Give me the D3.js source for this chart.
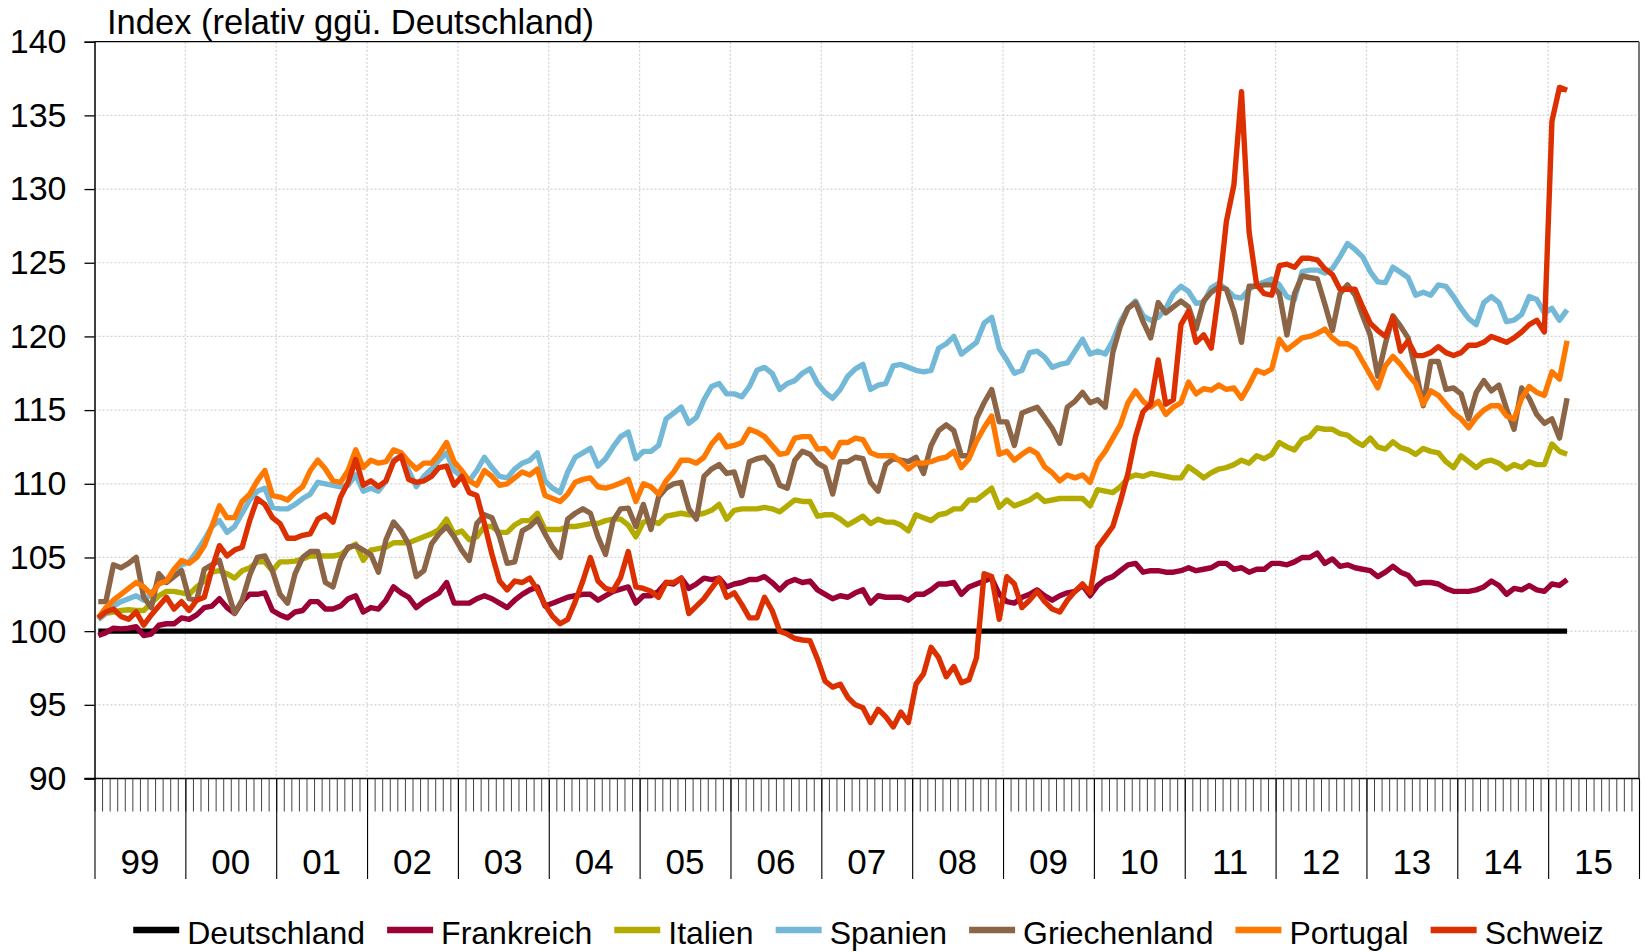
<!DOCTYPE html>
<html><head><meta charset="utf-8">
<script src="https://cdn.jsdelivr.net/npm/d3@7"></script>
<style>
html,body{margin:0;padding:0;background:#fff;}
svg{display:block;}
text{font-family:"Liberation Sans",Arial,Helvetica,sans-serif;fill:#000;}
</style></head><body>
<svg id="chart" width="1643" height="952"></svg>
<script>
// ---------- DATA ----------
const titleText = "Index (relativ ggü. Deutschland)";
const yearLabels = ["99","00","01","02","03","04","05","06","07","08","09","10","11","12","13","14","15"];
const yTicks = [90,95,100,105,110,115,120,125,130,135,140];
const seriesNames = ["Deutschland","Frankreich","Italien","Spanien","Griechenland","Portugal","Schweiz"];

const deutschland = [
100,100,100,100,100,100,100,100,100,100,100,100,
100,100,100,100,100,100,100,100,100,100,100,100,
100,100,100,100,100,100,100,100,100,100,100,100,
100,100,100,100,100,100,100,100,100,100,100,100,
100,100,100,100,100,100,100,100,100,100,100,100,
100,100,100,100,100,100,100,100,100,100,100,100,
100,100,100,100,100,100,100,100,100,100,100,100,
100,100,100,100,100,100,100,100,100,100,100,100,
100,100,100,100,100,100,100,100,100,100,100,100,
100,100,100,100,100,100,100,100,100,100,100,100,
100,100,100,100,100,100,100,100,100,100,100,100,
100,100,100,100,100,100,100,100,100,100,100,100,
100,100,100,100,100,100,100,100,100,100,100,100,
100,100,100,100,100,100,100,100,100,100,100,100,
100,100,100,100,100,100,100,100,100,100,100,100,
100,100,100,100,100,100,100,100,100,100,100,100,
100,100,100
];

const frankreich = [
99.7,99.9,100.2,100.15,100.2,100.3,99.7,99.8,100.4,100.5,100.5,100.9,
100.8,101.1,101.6,101.7,102.2,101.6,101.2,102.0,102.5,102.5,102.6,101.4,
101.1,100.9,101.3,101.4,102.0,102.0,101.5,101.5,101.7,102.2,102.4,101.3,
101.6,101.5,102.1,103.0,102.6,102.3,101.6,102.0,102.3,102.6,103.3,101.9,
101.9,101.9,102.2,102.4,102.2,101.9,101.6,102.1,102.5,102.8,103.0,101.7,
101.9,102.1,102.3,102.4,102.5,102.5,102.1,102.4,102.7,102.85,103.0,101.9,
102.4,102.4,102.7,103.3,103.2,103.6,102.9,103.2,103.6,103.5,103.6,103.0,
103.2,103.3,103.5,103.5,103.7,103.3,102.8,103.3,103.5,103.3,103.4,102.8,
102.5,102.2,102.4,102.3,102.6,102.8,101.9,102.4,102.3,102.3,102.3,102.1,
102.5,102.5,102.8,103.2,103.2,103.3,102.5,103.0,103.2,103.4,103.6,102.5,
102.0,101.9,102.3,102.5,102.8,102.4,102.1,102.4,102.6,102.7,103.1,102.4,
103.1,103.5,103.7,104.1,104.5,104.6,104.0,104.1,104.1,104.0,104.0,104.1,
104.3,104.1,104.2,104.3,104.6,104.6,104.2,104.3,104.0,104.2,104.2,104.6,
104.6,104.5,104.7,105.0,105.0,105.3,104.6,104.9,104.4,104.5,104.3,104.2,
104.1,103.7,104.0,104.4,104.0,103.8,103.2,103.3,103.3,103.2,102.9,102.7,
102.7,102.7,102.8,103.0,103.4,103.1,102.5,102.9,102.8,103.1,102.8,102.7,
103.2,103.1,103.5
];

const italien = [
100.8,101.2,101.3,101.4,101.45,101.4,101.4,101.9,102.4,102.7,102.7,102.6,
102.5,103.0,103.4,104.0,104.1,103.9,103.6,104.1,104.3,104.7,104.7,104.1,
104.7,104.7,104.75,104.9,105.1,105.1,105.1,105.1,105.2,105.6,105.9,104.8,
105.5,105.6,105.7,106.0,106.0,106.0,106.2,106.4,106.6,106.9,107.6,106.6,
106.8,106.2,106.4,107.1,107.1,106.7,106.7,107.2,107.5,107.5,108.0,106.9,
106.9,106.9,107.1,107.1,107.2,107.3,107.3,107.5,107.6,107.6,107.2,106.4,
107.4,107.5,107.3,107.8,107.9,108.0,107.9,107.9,108.0,108.2,108.6,107.6,
108.2,108.3,108.3,108.3,108.4,108.3,108.1,108.5,108.9,108.8,108.8,107.8,
107.9,107.9,107.6,107.2,107.5,107.8,107.3,107.6,107.4,107.4,107.2,106.8,
107.9,107.7,107.5,107.9,108.0,108.3,108.3,108.9,108.9,109.3,109.7,108.4,
108.9,108.5,108.7,108.9,109.25,108.8,108.9,109.0,109.0,109.0,109.0,108.5,
109.6,109.5,109.4,109.8,110.4,110.6,110.5,110.7,110.6,110.5,110.4,110.4,
111.15,110.8,110.4,110.75,111.0,111.1,111.3,111.6,111.4,111.9,111.7,112.0,
112.8,112.5,112.3,113.0,113.2,113.8,113.7,113.7,113.4,113.3,112.9,112.6,
113.1,112.5,112.35,112.85,112.45,112.3,112.0,112.4,112.2,112.1,111.5,111.1,
111.9,111.5,111.1,111.5,111.6,111.4,111.0,111.3,111.1,111.5,111.3,111.3,
112.7,112.2,112.0
];

const spanien = [
100.8,101.2,101.7,102.0,102.2,102.4,102.1,102.5,103.3,103.4,104.0,104.5,
104.7,105.4,106.2,107.1,107.5,106.7,107.1,108.0,108.9,109.5,109.7,108.4,
108.3,108.3,108.6,109.0,109.3,110.1,110.0,109.9,109.8,109.9,110.6,109.5,
109.7,109.5,110.2,111.6,111.9,110.9,109.8,110.5,111.0,111.6,112.1,110.9,
110.5,110.2,110.9,111.8,111.1,110.5,110.4,111.0,111.4,111.6,112.1,110.2,
109.7,109.4,110.8,111.8,112.1,112.4,111.2,111.7,112.5,113.2,113.5,111.7,
112.2,112.2,112.6,114.4,114.8,115.2,114.1,114.5,115.7,116.6,116.8,116.1,
116.1,115.9,116.6,117.7,117.9,117.5,116.4,116.8,117.0,117.5,117.8,116.8,
116.2,115.8,116.4,117.3,117.8,118.1,116.4,116.7,116.8,118.0,118.1,117.9,
117.7,117.6,117.7,119.2,119.5,120.0,118.8,119.2,119.6,120.9,121.3,119.2,
118.4,117.5,117.7,118.9,119.0,118.6,117.9,118.1,118.2,119.0,119.8,118.8,
119.0,118.8,119.7,121.0,121.9,122.4,121.4,121.1,121.3,121.9,122.9,123.4,
123.05,122.25,122.3,123.3,123.6,123.2,122.7,122.6,123.2,123.5,123.7,123.9,
123.5,122.7,122.5,124.4,124.5,124.5,124.3,124.6,125.4,126.3,125.9,125.4,
124.4,123.7,123.65,124.7,124.35,124.0,122.8,123.0,122.8,123.5,123.4,122.7,
121.9,121.2,120.8,122.3,122.7,122.3,121.0,121.1,121.5,122.7,122.5,121.6,
121.9,121.1,121.8
];

const griechenland = [
102.0,102.0,104.5,104.3,104.6,105.0,102.3,101.6,103.9,103.3,103.7,104.1,
102.2,102.1,104.2,104.5,104.8,102.9,101.2,102.1,103.8,105.0,105.1,104.1,
102.5,101.9,103.9,105.0,105.4,105.4,103.3,103.0,104.8,105.7,105.8,105.5,
105.2,104.0,106.2,107.4,106.8,105.9,103.7,104.1,105.9,106.6,107.1,106.4,
105.5,104.8,107.3,107.9,107.7,106.4,104.6,104.7,106.8,107.1,107.6,106.6,
105.7,105.0,107.6,108.0,108.3,108.0,106.4,105.2,107.5,108.3,108.35,107.1,
108.6,106.9,109.1,109.7,110.0,110.1,108.3,107.6,110.5,111.0,111.3,110.7,
110.8,109.2,111.5,111.7,111.8,111.2,109.9,109.7,111.6,112.2,112.0,111.4,
111.1,109.3,111.5,111.5,111.8,111.7,110.1,109.5,111.3,111.7,111.6,111.5,
111.8,110.7,112.6,113.6,114.0,113.6,111.9,111.9,114.4,115.5,116.4,114.2,
114.2,112.6,114.8,115.0,115.2,114.5,113.75,112.75,115.2,115.6,116.2,115.5,
115.7,115.2,118.9,120.7,121.9,122.3,121.0,119.9,122.3,121.6,122.0,122.4,
122.0,120.5,122.4,123.0,123.35,123.2,121.7,119.6,123.4,123.4,123.5,123.5,
122.9,120.1,122.9,124.1,124.0,123.9,122.2,120.4,122.9,123.5,122.8,121.4,
120.1,117.3,119.5,121.4,120.7,119.9,117.7,115.3,118.3,118.3,116.4,116.5,
116.1,114.4,116.2,117.0,116.3,116.7,115.1,113.7,116.5,115.8,114.7,114.1,
114.4,113.1,115.8
];

const portugal = [
100.9,101.6,102.1,102.5,102.9,103.3,103.0,102.5,103.2,103.4,104.2,104.8,
104.6,105.0,105.8,107.1,108.5,107.7,107.7,108.8,109.3,110.2,110.9,109.2,
109.1,108.9,109.4,109.8,110.9,111.6,111.0,110.2,110.1,110.9,112.3,111.1,
111.6,111.4,111.5,112.3,112.1,111.5,111.0,111.4,111.4,112.0,112.8,111.5,
110.9,110.2,109.9,110.9,110.5,109.9,110.0,110.4,110.8,110.6,111.0,109.2,
109.0,108.8,109.3,110.1,110.3,110.4,109.8,109.7,109.85,110.05,110.3,108.8,
110.0,109.8,109.3,110.2,110.8,111.6,111.6,111.4,111.8,112.7,113.3,112.5,
112.6,112.8,113.7,113.5,113.2,112.6,112.0,112.1,113.1,113.2,113.2,112.35,
112.4,111.8,112.8,112.8,113.1,113.0,112.1,111.9,111.9,111.9,111.5,111.0,
111.4,111.4,111.5,111.7,111.8,112.2,111.1,111.7,112.9,113.8,114.6,112.0,
112.2,111.6,112.0,112.35,112.05,111.15,110.75,110.2,110.6,110.4,110.6,110.1,
111.5,112.2,113.1,114.0,115.5,116.3,115.6,115.2,115.6,114.7,115.2,115.5,
116.9,116.1,116.45,116.35,116.7,116.4,116.5,115.8,116.7,117.7,117.5,117.8,
119.8,119.1,119.5,119.9,120.0,120.2,120.5,119.9,119.5,119.5,119.2,118.3,
117.4,116.5,118.0,118.65,118.1,117.4,116.8,115.4,116.3,116.0,115.4,114.8,
114.4,113.8,114.5,115.0,115.3,115.3,114.6,114.4,115.8,116.6,116.2,116.0,
117.6,117.1,119.7
];

const schweiz = [
100.9,101.3,101.5,101.0,100.8,101.3,100.4,101.1,101.7,102.3,101.5,102.0,
101.4,102.1,102.3,104.2,105.8,105.1,105.5,105.7,107.5,109.0,108.6,107.7,
107.3,106.3,106.3,106.5,106.6,107.6,107.9,107.4,109.1,110.1,111.65,109.9,
110.2,109.8,110.2,111.5,111.9,110.3,110.1,110.2,110.5,111.1,111.2,109.9,
110.5,109.4,109.2,107.3,105.2,103.4,102.8,103.4,103.3,103.6,102.8,101.8,
101.0,100.5,100.8,102.0,103.4,105.0,103.4,102.9,102.75,103.65,105.4,103.0,
102.9,102.7,102.3,103.3,103.3,103.6,101.2,101.7,102.2,102.9,103.6,102.3,
102.6,101.8,100.9,100.9,102.3,101.4,100.0,99.8,99.5,99.4,99.35,98.1,
96.6,96.2,96.4,95.5,95.0,94.8,93.8,94.7,94.2,93.5,94.5,93.8,
96.4,97.1,98.9,98.2,96.9,97.6,96.5,96.7,98.2,103.9,103.7,100.8,
103.7,103.2,101.6,102.1,102.7,102.0,101.5,101.3,102.1,102.7,103.2,102.6,
105.7,106.4,107.1,108.8,110.7,113.2,114.9,115.4,118.4,115.4,115.7,120.8,
121.7,119.6,120.1,119.2,123.0,127.8,130.3,136.6,127.1,123.5,122.9,122.8,
124.8,124.9,124.7,125.3,125.3,125.2,124.6,124.2,123.2,123.2,123.2,122.0,
120.9,120.4,120.0,121.3,119.0,119.7,118.7,118.7,118.9,119.3,118.9,118.7,
118.9,119.4,119.4,119.6,120.0,119.8,119.6,119.9,120.3,120.8,121.1,120.3,
134.6,136.9,136.7
];

// ---------- STYLE ----------
const seriesColors = ["#000000","#9b0036","#b3ab00","#73b9d7","#8c6446","#ff7800","#dc3000"];
const seriesValues = [deutschland, frankreich, italien, spanien, griechenland, portugal, schweiz];

const W = 1643, H = 952;
const M = {left: 94.5, right: 1639, top: 41.7, bottom: 778.5};

const svg = d3.select("#chart");
svg.append("rect").attr("width", W).attr("height", H).attr("fill", "#fff");

const nMonths = yearLabels.length * 12;
const x = d3.scaleLinear().domain([0, nMonths]).range([M.left, M.right]);
const y = d3.scaleLinear().domain([d3.min(yTicks), d3.max(yTicks)]).range([M.bottom, M.top]);
const yearBand = d3.scaleBand().domain(yearLabels).range([M.left, M.right]).padding(0);

// gridlines
const grid = svg.append("g").attr("class", "grid");
grid.selectAll("line.h").data(yTicks.slice(1, -1)).join("line")
  .attr("x1", M.left).attr("x2", M.right)
  .attr("y1", d => y(d)).attr("y2", d => y(d))
  .attr("stroke", "#d2d2d2").attr("stroke-width", 1.2).attr("stroke-dasharray", "2,2");
grid.selectAll("line.v").data(yearLabels.slice(1)).join("line")
  .attr("x1", d => yearBand(d)).attr("x2", d => yearBand(d))
  .attr("y1", M.top).attr("y2", M.bottom)
  .attr("stroke", "#d2d2d2").attr("stroke-width", 1.2).attr("stroke-dasharray", "2,2");

// frame (top, right)
svg.append("line").attr("x1", M.left).attr("x2", M.right).attr("y1", M.top).attr("y2", M.top)
  .attr("stroke", "#000").attr("stroke-width", 1.3);
svg.append("line").attr("x1", M.right).attr("x2", M.right).attr("y1", M.top).attr("y2", M.bottom)
  .attr("stroke", "#777").attr("stroke-width", 2);

// y axis
const yAxis = svg.append("g").attr("transform", `translate(${M.left},0)`)
  .call(d3.axisLeft(y).tickValues(yTicks).tickSize(10).tickPadding(18).tickFormat(d3.format("d")));
yAxis.select(".domain").attr("stroke", "#000").attr("stroke-width", 1.5);
yAxis.selectAll(".tick line").attr("stroke", "#000").attr("stroke-width", 1.3);
yAxis.selectAll(".tick text").attr("font-size", 34).attr("font-family", '"Liberation Sans",Arial,sans-serif').attr("fill", "#000");

// x axis: monthly ticks
const xAxisM = svg.append("g").attr("transform", `translate(0,${M.bottom})`)
  .call(d3.axisBottom(x).tickValues(d3.range(0, nMonths + 1)).tickSize(33).tickFormat(""));
xAxisM.select(".domain").remove();
xAxisM.selectAll(".tick line").attr("stroke", "#444").attr("stroke-width", 1);

// x axis: year separators
const xAxisY = svg.append("g").attr("transform", `translate(0,${M.bottom})`)
  .call(d3.axisBottom(x).tickValues(d3.range(0, nMonths + 1, 12)).tickSize(100.5).tickFormat(""));
xAxisY.select(".domain").attr("stroke", "#000").attr("stroke-width", 1.5).attr("d", `M${M.left - 10},0H${M.right}`);
xAxisY.selectAll(".tick line").attr("stroke", "#000").attr("stroke-width", 1.1);

// year labels
svg.append("g").selectAll("text").data(yearLabels).join("text")
  .attr("x", d => yearBand(d) + yearBand.bandwidth() / 2)
  .attr("y", 874)
  .attr("text-anchor", "middle")
  .attr("font-size", 35)
  .text(d => d);

// title
svg.append("text").attr("x", 107).attr("y", 34).attr("font-size", 34.5).text(titleText);

// lines
const line = d3.line().x((d, i) => x(i + 0.5)).y(d => y(d)).curve(d3.curveLinear);
const linesG = svg.append("g");
seriesNames.forEach((name, k) => {
  linesG.append("path")
    .datum(seriesValues[k])
    .attr("d", line)
    .attr("fill", "none")
    .attr("stroke", seriesColors[k])
    .attr("stroke-width", 5.4)
    .attr("stroke-linejoin", "round")
    .attr("stroke-linecap", "butt");
});

// legend
const legend = svg.append("g");
const items = legend.selectAll("g").data(seriesNames).join("g");
items.append("line").attr("x1", 0).attr("x2", 46).attr("y1", 0).attr("y2", 0)
  .attr("stroke", (d, i) => seriesColors[i]).attr("stroke-width", 6.5);
items.append("text").attr("x", 54).attr("y", 14).attr("font-size", 32).text(d => d);
let widths = [];
items.each(function() { widths.push(54 + d3.select(this).select("text").node().getComputedTextLength()); });
const gap = 22;
const total = d3.sum(widths) + gap * (widths.length - 1);
let cx = 868.5 - total / 2;
items.each(function(d, i) {
  d3.select(this).attr("transform", `translate(${cx},930)`);
  cx += widths[i] + gap;
});
</script>
</body></html>
